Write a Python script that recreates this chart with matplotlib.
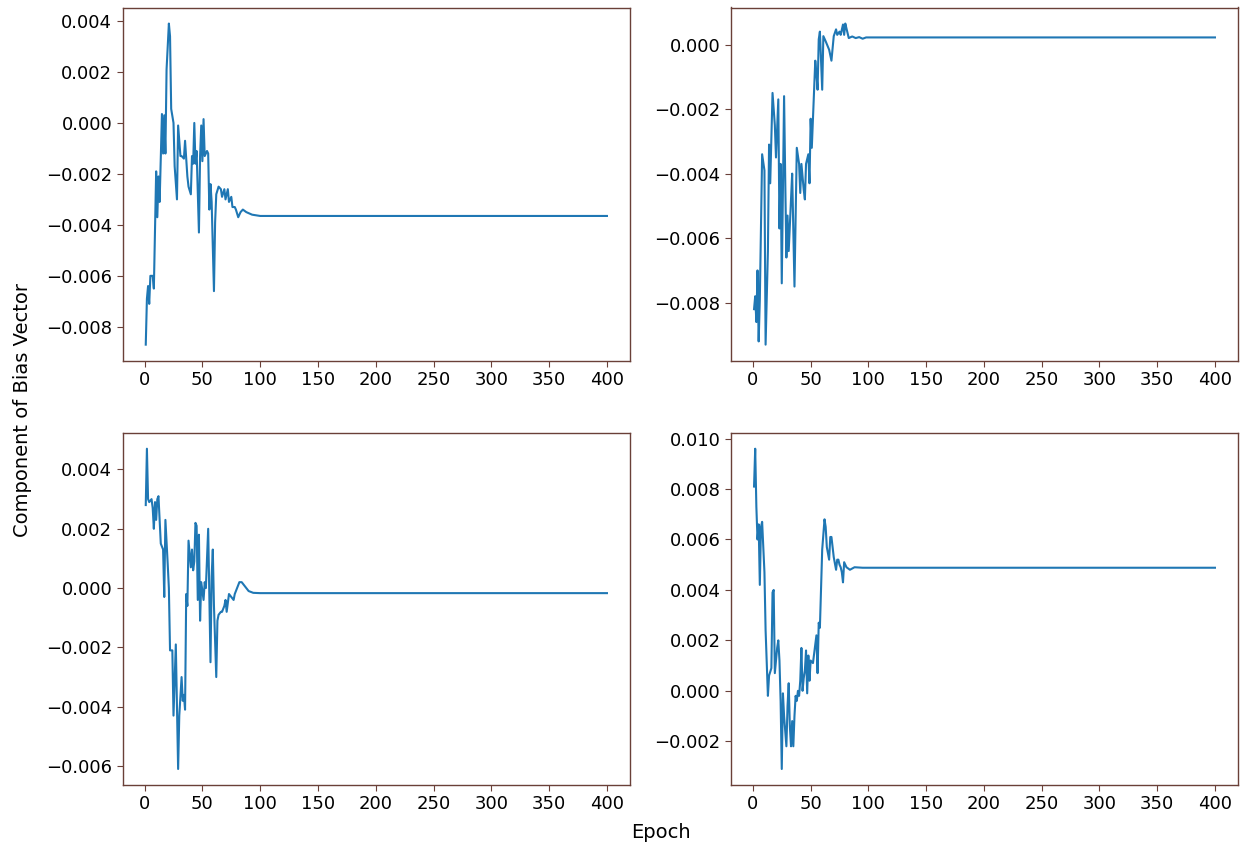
import matplotlib
matplotlib.use("Agg")
import matplotlib.pyplot as plt

# ---- data (epoch, bias-component value) ----
ep_a = [1, 2, 3, 4, 5, 7, 8, 10, 11, 12, 13, 15, 16, 17, 18, 19, 21, 22, 23, 25,
        26, 28, 29, 31, 32, 34, 35, 37, 38, 40, 41, 42, 43, 44, 45, 47, 48, 49, 50, 51,
        52, 54, 55, 56, 57, 58, 60, 61, 62, 64, 66, 67, 69, 70, 72, 73, 75, 76, 78, 79,
        81, 83, 85, 88, 93, 100, 120, 400]
val_a = [-0.0087, -0.0069, -0.0064, -0.0071, -0.0060, -0.0060, -0.0065, -0.0019, -0.0037, -0.0021,
         -0.0031, 0.00035, -0.0012, 0.0003, -0.0012, 0.0021, 0.0039, 0.0034, 0.00055, 0.0000,
         -0.0017, -0.0030, -0.0001, -0.0013, -0.0013, -0.0014, -0.0007, -0.0021, -0.0025, -0.0028,
         -0.0013, -0.0016, 0.0000, -0.0016, -0.0011, -0.0043, -0.0013, -0.0001, -0.0015, 0.00015,
         -0.0013, -0.0011, -0.0012, -0.0034, -0.0024, -0.0031, -0.0066, -0.0039, -0.0028, -0.0025,
         -0.0026, -0.0029, -0.0026, -0.0030, -0.0026, -0.0031, -0.0029, -0.0033, -0.0033, -0.0034,
         -0.0037, -0.0035, -0.0034, -0.0035, -0.0036, -0.00365, -0.00365, -0.00365]

ep_b = [1, 2, 3, 4, 5, 6, 8, 10, 11, 13, 14, 15, 17, 19, 20, 22, 23, 24, 25, 27,
        28, 29, 30, 31, 33, 34, 36, 38, 40, 41, 42, 44, 45, 46, 48, 49, 50, 51, 53, 54,
        55, 56, 57, 58, 60, 61, 63, 66, 68, 70, 72, 73, 75, 76, 78, 79, 80, 81, 83, 86,
        89, 92, 95, 98, 110, 400]
val_b = [-0.0082, -0.0078, -0.0086, -0.0070, -0.0092, -0.0079, -0.0034, -0.0039, -0.0093, -0.0064,
         -0.0031, -0.0043, -0.0015, -0.0025, -0.0035, -0.0017, -0.0057, -0.0037, -0.0074, -0.0016,
         -0.0042, -0.0066, -0.0053, -0.0064, -0.0048, -0.0040, -0.0075, -0.0032, -0.0037, -0.0046,
         -0.0037, -0.0045, -0.0048, -0.0037, -0.0034, -0.0043, -0.0023, -0.0032, -0.0014, -0.0005,
         -0.0009, -0.0014, 0.00016, 0.0004, -0.0014, 0.00026, 0.0001, -0.00016, -0.0005, 0.00026,
         0.00047, 0.0003, 0.0004, 0.0003, 0.00062, 0.0003, 0.00065, 0.0005, 0.0002, 0.00025,
         0.0002, 0.00023, 0.00018, 0.00022, 0.00022, 0.00022]

ep_c = [1, 2, 3, 4, 6, 7, 8, 9, 10, 11, 12, 13, 14, 16, 17, 18, 20, 21, 22, 24,
        25, 27, 29, 30, 32, 33, 34, 35, 36, 37, 38, 40, 41, 42, 43, 44, 45, 46, 47, 48,
        49, 51, 52, 53, 55, 57, 58, 59, 60, 62, 63, 64, 66, 67, 69, 70, 71, 73, 75, 77,
        78, 80, 82, 84, 87, 90, 94, 100, 400]
val_c = [0.0028, 0.0047, 0.0030, 0.0029, 0.0030, 0.0027, 0.0020, 0.0029, 0.0023, 0.0030,
         0.0031, 0.0023, 0.0015, 0.0013, -0.0003, 0.0023, 0.0008, 0.0000, -0.0021, -0.0021,
         -0.0043, -0.0019, -0.0061, -0.0043, -0.0030, -0.0038, -0.0036, -0.0041, -0.0002, -0.0006,
         0.0016, 0.0007, 0.0013, 0.0006, 0.0009, 0.0022, 0.0021, -0.0004, 0.0018, -0.0011,
         0.0002, -0.0004, 0.0002, 0.0000, 0.0020, -0.0025, 0.0004, 0.0013, -0.0006, -0.0030,
         -0.0011, -0.0009, -0.0008, -0.0008, -0.0006, -0.0004, -0.0008, -0.0002, -0.0003, -0.0004,
         -0.0002, 0.0000, 0.0002, 0.0002, 0.00005, -0.0001, -0.00016, -0.00017, -0.00017]

ep_d = [1, 2, 3, 4, 5, 6, 7, 8, 10, 11, 13, 14, 16, 17, 18, 19, 21, 22, 23, 24,
        25, 26, 27, 29, 30, 31, 32, 33, 34, 35, 36, 37, 38, 39, 40, 41, 42, 43, 44, 45,
        46, 47, 48, 49, 50, 52, 55, 56, 57, 58, 60, 62, 63, 64, 66, 67, 68, 70, 72, 73,
        74, 75, 76, 77, 78, 79, 81, 84, 88, 95, 110, 400]
val_d = [0.0081, 0.0096, 0.0073, 0.0060, 0.0066, 0.0042, 0.0065, 0.0067, 0.0047, 0.0024,
         -0.0002, 0.0006, 0.0009, 0.0039, 0.0040, 0.0007, 0.0017, 0.0020, 0.0012, -0.0004,
         -0.0031, -0.0001, -0.0010, -0.0022, -0.0006, 0.0003, -0.0014, -0.0022, -0.0012, -0.0022,
         -0.0010, -0.0002, -0.0004, 0.0000, -0.0002, 0.0004, 0.0017, 0.0000, 0.0005, 0.0008,
         0.0016, -0.0001, 0.0014, 0.0004, 0.0012, 0.0011, 0.0022, 0.0007, 0.0027, 0.0025,
         0.0056, 0.0068, 0.0065, 0.0057, 0.0052, 0.0061, 0.0061, 0.0053, 0.0048, 0.0052,
         0.0052, 0.0050, 0.0049, 0.0047, 0.0043, 0.0051, 0.0049, 0.0048, 0.0049, 0.00488,
         0.00488, 0.00488]

series = [(ep_a, val_a), (ep_b, val_b), (ep_c, val_c), (ep_d, val_d)]
x_ticks = [0, 50, 100, 150, 200, 250, 300, 350, 400]

W, H = 1245, 852
fig = plt.figure(figsize=(W / 100, H / 100), dpi=100)

# axes rectangles in pixels: (left, top, right, bottom)
rects = [(122.7, 7.5, 630, 360.7), (731, 7.5, 1238, 360.7),
         (122.7, 432.7, 630, 785), (731, 432.7, 1238, 785)]

spine_col = "#6a4038"
for (ep, val), (l, t, r, b) in zip(series, rects):
    ax = fig.add_axes([l / W, 1 - b / H, (r - l) / W, (b - t) / H])
    ax.plot(ep, val, color="#1f77b4", lw=1.5)
    ax.set_xticks(x_ticks)
    ax.tick_params(labelsize=13, color=spine_col, length=4)
    for s in ax.spines.values():
        s.set_color(spine_col)
        s.set_linewidth(1.0)

fig.text(661 / W, 1 - 833 / H, "Epoch", ha="center", va="center", fontsize=14)
fig.text(23 / W, 1 - 410 / H, "Component of Bias Vector", ha="center", va="center",
         rotation=90, fontsize=14)

fig.savefig("out.png", dpi=100)
